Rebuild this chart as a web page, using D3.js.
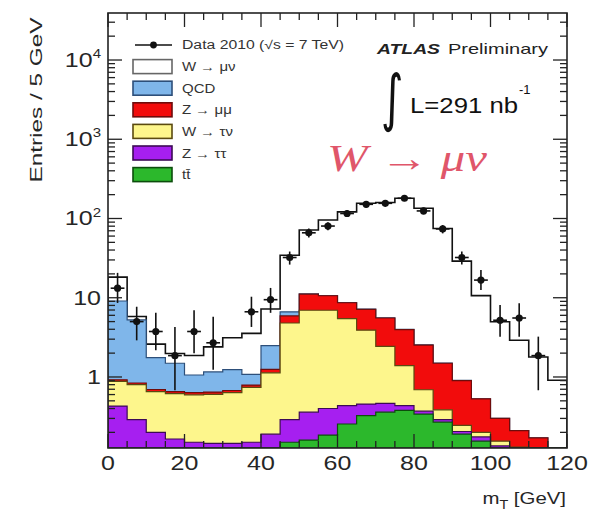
<!DOCTYPE html>
<html><head><meta charset="utf-8">
<script src="https://cdn.jsdelivr.net/npm/d3@7"></script>
<style>body{margin:0;background:#fff} svg{display:block}</style>
</head><body>
<svg id="c" width="590" height="517"></svg>
<script>
// ---------- data ----------
const binLow = [0,5,10,15,20,25,30,35,40,45,50,55,60,65,70,75,80,85,90,95,100,105,110,115];
const binW = 5;
const ttbar   = [0.02,0.02,0.02,0.02,0.03,0.03,0.04,0.05,0.07,0.15,0.16,0.185,0.255,0.325,0.36,0.38,0.34,0.27,0.19,0.155,0.12,0.09,0.07,0.03];
const zTauTau = [0.41,0.27,0.18,0.145,0.12,0.115,0.105,0.10,0.12,0.14,0.20,0.215,0.18,0.13,0.105,0.055,0.03,0.02,0.015,0.02,0.015,0.01,0.01,0.01];
const wTauNu  = [0.45,0.51,0.455,0.45,0.445,0.46,0.49,0.59,0.94,4.51,6.59,6.55,5.015,3.445,1.975,0.955,0.32,0.095,0.04,0.025,0.02,0.03,0.02,0.01];
const zMuMu   = [0.04,0.04,0.04,0.04,0.04,0.04,0.04,0.05,0.12,1.1,4.15,3.65,3.2,3.25,3.11,2.57,1.84,1.105,0.655,0.33,0.145,0.08,0.07,0.02];
const qcd     = [8.18,4.41,1.055,0.835,0.425,0.515,0.565,0.29,1.24,0.75,0.06,0.05,0.04,0.03,0.03,0.02,0.02,0.01,0.01,0,0,0,0,0];
const wMuNu   = [9.1,0.55,0.85,0.49,0.81,1.24,1.89,2.47,4.71,27.75,60.4,85.2,112.6,148.4,153.4,176,132,73.4,28.1,10.1,4.67,2.7,1.62,0.84];

const dataVal = [13.2,5.0,3.75,1.86,3.75,2.7,null,6.65,9.45,32.2,66,80.3,115.6,151,155.5,180,124.6,73.8,32.2,16.7,5.2,5.55,1.86,null];
const dataLo  = [8.6,2.9,2.17,0.68,2.0,1.23,null,4.28,6.45,26.2,57.4,71,104.7,137.7,142,165.6,112.4,64.9,26.2,12.5,3.23,3.23,0.68,null];
const dataHi  = [20.6,7.7,6.45,4.28,6.97,5.75,null,10.3,13.3,38.3,74.9,89.9,126.8,164.2,168.6,194.5,136.8,82.6,38.3,22.4,8.1,8.55,3.23,null];

const xTickVals = [0,20,40,60,80,100,120];
const xTickText = ["0","20","40","60","80","100","120"];
const yTickVals = [1,10,100,1000,10000];
const yTickBase = ["1","10","10","10","10"];
const yTickExp  = ["","","2","3","4"];

const seriesKeys   = ["ttbar","zTauTau","wTauNu","zMuMu","qcd","wMuNu"];
const seriesLabels = {wMuNu:"W → μν", qcd:"QCD", zMuMu:"Z → μμ", wTauNu:"W → τν", zTauTau:"Z → ττ", ttbar:"tt\u0304"};
const legendOrder  = ["wMuNu","qcd","zMuMu","wTauNu","zTauTau","ttbar"];

// ---------- styles ----------
const fills   = {wMuNu:"#ffffff", qcd:"#7fb6ea", zMuMu:"#f20c0c", wTauNu:"#fdf68c", zTauTau:"#a61ff0", ttbar:"#2cb82c"};
const strokes = {wMuNu:"#111111", qcd:"#2d4f7a", zMuMu:"#6e0c0c", wTauNu:"#5a4a10", zTauTau:"#3c0a55", ttbar:"#0c4d0c"};
const FONT = "'Liberation Sans', Arial, Helvetica, sans-serif";

const svg = d3.select("#c");
const L = 108, R = 567, T = 13, B = 448;
const x = d3.scaleLinear().domain([0,120]).range([L,R]);
const y = d3.scaleLog().domain([0.127,39200]).range([B,T]).clamp(true);

const rows = binLow.map((b,i)=>({ttbar:ttbar[i], zTauTau:zTauTau[i], wTauNu:wTauNu[i], zMuMu:zMuMu[i], qcd:qcd[i], wMuNu:wMuNu[i]}));
const stacked = d3.stack().keys(seriesKeys)(rows);

svg.append("defs").append("clipPath").attr("id","pc")
  .append("rect").attr("x",L).attr("y",T).attr("width",R-L).attr("height",B-T);

const plot = svg.append("g").attr("clip-path","url(#pc)");
const area = d3.area().x(p=>x(p[0])).y0(B).y1(p=>y(Math.max(p[1],1e-3)));
const stepPts = layer => layer.flatMap((d,i)=>[[binLow[i], d[1]],[binLow[i]+binW, d[1]]]);

// draw from top cumulative down (ROOT THStack style)
stacked.slice().reverse().forEach(layer=>{
  const k = layer.key;
  plot.append("path").attr("d", area(stepPts(layer)))
    .attr("fill", fills[k]).attr("stroke", strokes[k])
    .attr("stroke-width", k==="wMuNu"?1.6:1.2).attr("stroke-linejoin","miter");
});

// data points
const dg = plot.append("g").attr("stroke","#111").attr("stroke-width",1.6);
dataVal.forEach((v,i)=>{
  if(v==null) return;
  const cx = x(binLow[i]+binW/2);
  dg.append("line").attr("x1",cx).attr("x2",cx).attr("y1",y(dataLo[i])).attr("y2",y(dataHi[i]));
  dg.append("line").attr("x1",x(binLow[i]+0.7)).attr("x2",x(binLow[i]+binW-0.7)).attr("y1",y(v)).attr("y2",y(v));
  dg.append("circle").attr("cx",cx).attr("cy",y(v)).attr("r",3.6).attr("fill","#111").attr("stroke","none");
});

// frame & ticks
const ax = svg.append("g").attr("stroke","#222").attr("stroke-width",1.3).attr("fill","none");
ax.append("rect").attr("x",L).attr("y",T).attr("width",R-L).attr("height",B-T).attr("stroke-width",1.6);
const xMinor = d3.range(0,121,5);
xMinor.forEach(v=>{
  const len = (v%20===0)?14:7, px = x(v);
  ax.append("line").attr("x1",px).attr("x2",px).attr("y1",B).attr("y2",B-len);
  ax.append("line").attr("x1",px).attr("x2",px).attr("y1",T).attr("y2",T+len);
});
y.ticks().forEach(v=>{
  const lg = Math.log10(v), major = Math.abs(lg-Math.round(lg))<1e-9;
  const len = major?14:7, py = y(v);
  if(py<T+0.5||py>B-0.5) return;
  ax.append("line").attr("x1",L).attr("x2",L+len).attr("y1",py).attr("y2",py);
  ax.append("line").attr("x1",R).attr("x2",R-len).attr("y1",py).attr("y2",py);
});

// tick labels
const txt = svg.append("g").attr("font-family",FONT).attr("fill","#262626");
xTickVals.forEach((v,i)=>{
  txt.append("g").attr("transform",`translate(${x(v)},470) scale(1.25,1)`)
    .append("text").attr("text-anchor","middle").attr("font-size",20).text(xTickText[i]);
});
yTickVals.forEach((v,i)=>{
  const t = txt.append("g").attr("transform",`translate(101,${y(v)+7}) scale(1.25,1)`)
    .append("text").attr("text-anchor","end").attr("font-size",20).text(yTickBase[i]);
  if(yTickExp[i]) t.append("tspan").attr("dy",-9).attr("font-size",12).text(yTickExp[i]);
});

// axis titles
const xt = txt.append("g").attr("transform","translate(566,504) scale(1.2,1)")
  .append("text").attr("text-anchor","end").attr("font-size",17);
xt.append("tspan").text("m");
xt.append("tspan").attr("dy",5).attr("font-size",12).text("T");
xt.append("tspan").attr("dy",-5).text(" [GeV]");

txt.append("text").attr("transform","translate(42,100) rotate(-90)")
  .attr("text-anchor","middle").attr("font-size",17)
  .attr("textLength",165).attr("lengthAdjust","spacingAndGlyphs").text("Entries / 5 GeV");

// legend
const lg = svg.append("g").attr("font-family",FONT);
lg.append("line").attr("x1",135).attr("x2",172).attr("y1",45).attr("y2",45).attr("stroke","#111").attr("stroke-width",1.6);
lg.append("circle").attr("cx",153.5).attr("cy",45).attr("r",3.4).attr("fill","#111");
lg.append("text").attr("x",182).attr("y",49).attr("font-size",12).attr("fill","#333")
  .attr("textLength",162).attr("lengthAdjust","spacingAndGlyphs").text("Data 2010 (√s = 7 TeV)");
legendOrder.forEach((k,i)=>{
  const cy = 66.6 + i*21.6;
  lg.append("rect").attr("x",133).attr("y",cy-7).attr("width",39).attr("height",14)
    .attr("fill",fills[k]).attr("stroke", k==="wMuNu"?"#666":strokes[k]).attr("stroke-width",1.6);
  lg.append("g").attr("transform",`translate(182,${cy+4.5}) scale(1.25,1)`)
    .append("text").attr("font-size",12).attr("fill","#333").text(seriesLabels[k]);
});

// ATLAS label
svg.append("text").attr("x",377).attr("y",54).attr("font-family",FONT).attr("font-size",15)
  .attr("font-weight","bold").attr("font-style","italic").attr("fill","#222")
  .attr("textLength",63).attr("lengthAdjust","spacingAndGlyphs").text("ATLAS");
svg.append("text").attr("x",448).attr("y",54).attr("font-family",FONT).attr("font-size",15).attr("fill","#222")
  .attr("textLength",100).attr("lengthAdjust","spacingAndGlyphs").text("Preliminary");

// luminosity
svg.append("g").attr("transform","translate(392,119) scale(0.7,1)")
  .append("text").attr("text-anchor","middle").attr("font-family","'DejaVu Sans', sans-serif")
  .attr("font-size",62).attr("fill","#111").text("∫");
svg.append("text").attr("x",410).attr("y",113).attr("font-family",FONT).attr("font-size",22).attr("fill","#111")
  .attr("textLength",108).attr("lengthAdjust","spacingAndGlyphs").text("L=291 nb");
svg.append("text").attr("x",519).attr("y",94).attr("font-family",FONT).attr("font-size",13).attr("fill","#111").text("-1");

// process label
svg.append("text").attr("x",327).attr("y",171).attr("font-family","'Liberation Serif', 'DejaVu Serif', serif")
  .attr("font-size",38).attr("font-style","italic").attr("fill","#e0566a")
  .attr("textLength",160).attr("lengthAdjust","spacingAndGlyphs").text("W → μν");
</script>
</body></html>
